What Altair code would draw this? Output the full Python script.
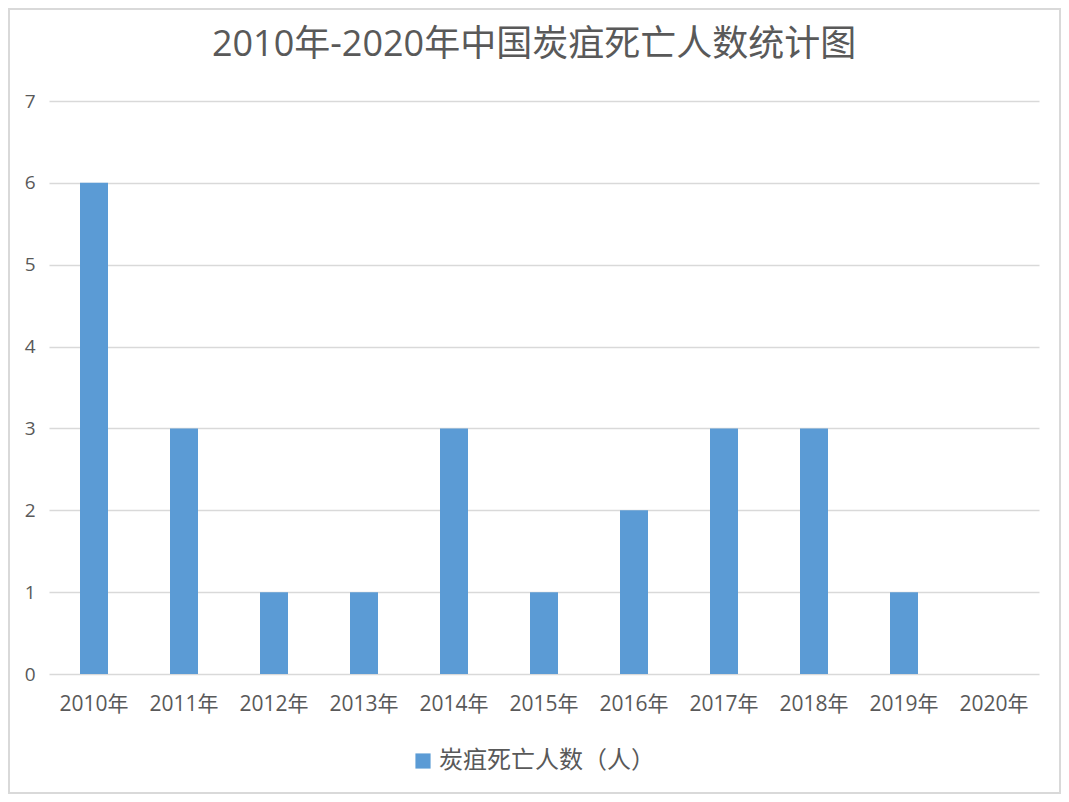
import altair as alt
import pandas as pd

# values
years = ["2010年", "2011年", "2012年", "2013年", "2014年", "2015年",
         "2016年", "2017年", "2018年", "2019年", "2020年"]
deaths = [6, 3, 1, 1, 3, 1, 2, 3, 3, 1, 0]
series_name = "炭疽死亡人数（人）"
chart_title = "2010年-2020年中国炭疽死亡人数统计图"

source = pd.DataFrame({"year": years, "deaths": deaths, "series": series_name})

FONT = "Open Sans, Noto Sans CJK SC"
GREY = "#595959"

bars = alt.Chart(source).mark_bar(size=28).encode(
    x=alt.X("year:N", sort=years, title=None,
            scale=alt.Scale(paddingInner=0.69, paddingOuter=0.345),
            axis=alt.Axis(labelAngle=0, labelFontSize=21, labelColor=GREY,
                          labelFont=FONT, ticks=False, domain=False,
                          labelPadding=19)),
    y=alt.Y("deaths:Q", title=None,
            scale=alt.Scale(domain=[0, 7], nice=False),
            axis=alt.Axis(values=list(range(8)), labelFontSize=19, labelColor=GREY,
                          labelFont=FONT, ticks=False, domain=False,
                          labelPadding=14, gridColor="#d9d9d9", gridWidth=1.5)),
    color=alt.Color("series:N", title=None,
                    scale=alt.Scale(range=["#5B9BD5"]),
                    legend=alt.Legend(orient="none", legendX=362, legendY=648,
                                      symbolType="square", symbolSize=230,
                                      labelFontSize=24, labelColor=GREY,
                                      labelFont=FONT, labelLimit=0,
                                      symbolStrokeWidth=0)),
)

# title drawn as text so the outer frame does not push it off the page
title = alt.Chart(pd.DataFrame({"t": [chart_title]})).mark_text(
    fontSize=36, font=FONT, color=GREY, baseline="alphabetic", align="center"
).encode(text="t:N", x=alt.value(485), y=alt.value(-45))

# light frame round the whole chart, like the spreadsheet chart area
frame = alt.Chart(source).mark_rect(fill=None, stroke="#d9d9d9", strokeWidth=2,
                                    clip=False).encode(
    x=alt.value(-40), x2=alt.value(1011),
    y=alt.value(-92), y2=alt.value(692),
)

chart = (bars + title + frame).properties(
    width=990,
    height=573,
    autosize=alt.AutoSizeParams(type="none"),
    padding={"left": 41, "top": 93, "right": 22, "bottom": 120},
).configure_view(stroke=None)

chart.save("out.html", embed_options={"renderer": "svg", "actions": False})
